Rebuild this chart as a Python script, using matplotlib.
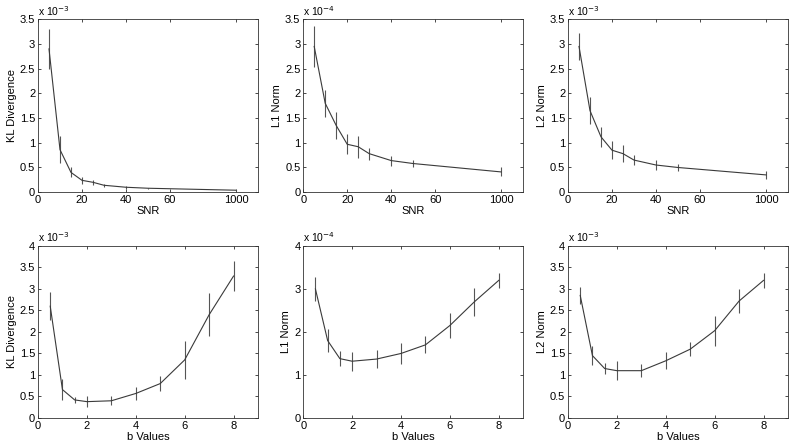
import matplotlib
matplotlib.use('Agg')
import matplotlib.pyplot as plt

plt.rcParams['font.family'] = ['Liberation Sans', 'DejaVu Sans']
plt.rcParams['font.size'] = 8

# SNR levels; 1000 is drawn at position 90 on a broken-looking axis
snr_labels = ['5', '10', '15', '20', '25', '30', '40', '50', '1000']
snr_pos = [5, 10, 15, 20, 25, 30, 40, 50, 90]
b_values = [0.5, 1, 1.5, 2, 3, 4, 5, 6, 7, 8]

# top row (values in units of 10^exp)
kl_snr = [2.9, 0.86, 0.40, 0.24, 0.20, 0.14, 0.10, 0.08, 0.04]
kl_snr_err = [0.40, 0.27, 0.10, 0.07, 0.05, 0.03, 0.03, 0.01, 0.01]
l1_snr = [2.95, 1.80, 1.35, 0.97, 0.92, 0.78, 0.64, 0.58, 0.41]
l1_snr_err = [0.42, 0.27, 0.27, 0.20, 0.22, 0.12, 0.10, 0.08, 0.09]
l2_snr = [2.95, 1.65, 1.12, 0.85, 0.78, 0.65, 0.55, 0.50, 0.35]
l2_snr_err = [0.28, 0.27, 0.20, 0.18, 0.17, 0.10, 0.10, 0.08, 0.08]

# bottom row
kl_b = [2.6, 0.66, 0.42, 0.38, 0.40, 0.57, 0.80, 1.35, 2.40, 3.30]
kl_b_err = [0.33, 0.25, 0.07, 0.13, 0.10, 0.15, 0.17, 0.45, 0.50, 0.35]
l1_b = [3.0, 1.80, 1.38, 1.32, 1.37, 1.50, 1.70, 2.15, 2.70, 3.20]
l1_b_err = [0.28, 0.27, 0.18, 0.22, 0.20, 0.25, 0.20, 0.30, 0.33, 0.17]
l2_b = [2.85, 1.45, 1.15, 1.10, 1.10, 1.33, 1.60, 2.03, 2.72, 3.20]
l2_b_err = [0.20, 0.22, 0.12, 0.22, 0.15, 0.20, 0.17, 0.35, 0.28, 0.17]

top = [(kl_snr, kl_snr_err, 'KL Divergence', -3),
       (l1_snr, l1_snr_err, 'L1 Norm', -4),
       (l2_snr, l2_snr_err, 'L2 Norm', -3)]
bottom = [(kl_b, kl_b_err, 'KL Divergence', -3),
          (l1_b, l1_b_err, 'L1 Norm', -4),
          (l2_b, l2_b_err, 'L2 Norm', -3)]

fig = plt.figure(figsize=(8, 4.48), dpi=100)
lefts = [0.0475, 0.379, 0.71]
w = 0.275


def style(ax, exp):
    ax.tick_params(direction='in', top=True, right=True, length=2,
                   width=0.5, pad=2)
    for s in ax.spines.values():
        s.set_linewidth(0.6)
        s.set_color('#333333')
    ax.text(0, 1.01, r'x 10$^{%d}$' % exp, transform=ax.transAxes,
            ha='left', va='bottom', fontsize=7.5)


def fmt(v):
    return ('%g' % v)


for i, (y, e, name, exp) in enumerate(top):
    ax = fig.add_axes([lefts[i], 0.571, w, 0.386])
    ax.errorbar(snr_pos, y, yerr=e, color='#3a3a3a', lw=0.8,
                ecolor='#555555', elinewidth=0.8, capsize=0)
    ax.set_xlim(0, 100)
    ax.set_ylim(0, 3.5)
    ax.set_xticks([0, 20, 40, 60, 90])
    ax.set_xticklabels(['0', '20', '40', '60', '1000'])
    yt = [0, 0.5, 1, 1.5, 2, 2.5, 3, 3.5]
    ax.set_yticks(yt)
    ax.set_yticklabels([fmt(v) for v in yt])
    ax.set_xlabel('SNR', labelpad=1)
    ax.set_ylabel(name, labelpad=2)
    style(ax, exp)

for i, (y, e, name, exp) in enumerate(bottom):
    ax = fig.add_axes([lefts[i], 0.067, w, 0.384])
    ax.errorbar(b_values, y, yerr=e, color='#3a3a3a', lw=0.8,
                ecolor='#555555', elinewidth=0.8, capsize=0)
    ax.set_xlim(0, 9)
    ax.set_ylim(0, 4)
    ax.set_xticks([0, 2, 4, 6, 8])
    if exp == -4:
        yt = [0, 1, 2, 3, 4]
    else:
        yt = [0, 0.5, 1, 1.5, 2, 2.5, 3, 3.5, 4]
    ax.set_yticks(yt)
    ax.set_yticklabels([fmt(v) for v in yt])
    ax.set_xlabel('b Values', labelpad=1)
    ax.set_ylabel(name, labelpad=2)
    style(ax, exp)

fig.savefig('out.png', dpi=100)
